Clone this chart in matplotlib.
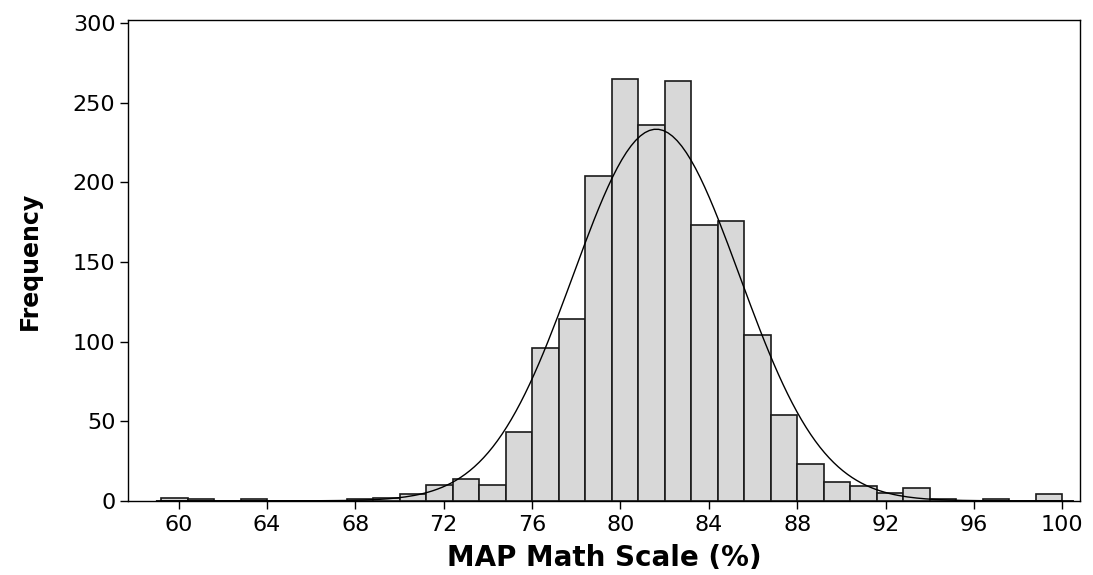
import numpy as np
import matplotlib.pyplot as plt

# Histogram bins (width 1.2, left edges) and counts
bin_width = 1.2
bin_left = np.round(59.2 + bin_width * np.arange(34), 1)
counts = [2, 1, 0, 1, 0, 0, 0, 1, 2, 4,
          10, 14, 10, 43, 96, 114, 204, 265, 236, 264,
          173, 176, 104, 54, 23, 12, 9, 5, 8, 1,
          0, 1, 0, 4]
x_ticks = [60, 64, 68, 72, 76, 80, 84, 88, 92, 96, 100]
y_ticks = [0, 50, 100, 150, 200, 250, 300]

counts = np.array(counts)
centers = bin_left + bin_width / 2

# Normal fit from the binned data
n = counts.sum()
mu = np.sum(counts * centers) / n
sd = np.sqrt(np.sum(counts * (centers - mu) ** 2) / (n - 1))
xs = np.linspace(59, 100.5, 200)
ys = n * bin_width / (sd * np.sqrt(2 * np.pi)) * np.exp(-0.5 * ((xs - mu) / sd) ** 2)

fig = plt.figure(figsize=(10.93, 5.75), dpi=100)
ax = fig.add_axes([0.117, 0.129, 0.871, 0.836])

ax.bar(bin_left, counts, width=bin_width, align='edge',
       color='#d8d8d8', edgecolor='#1a1a1a', linewidth=1.2)
ax.plot(xs, ys, color='black', linewidth=1.0)

ax.set_xlim(57.7, 100.8)
ax.set_ylim(0, 302)
ax.set_xticks(x_ticks)
ax.set_yticks(y_ticks)
ax.tick_params(labelsize=16, length=6, width=1, direction='out')
ax.tick_params(axis='y', pad=3)
ax.tick_params(axis='x', pad=4)
for s in ax.spines.values():
    s.set_linewidth(1.0)

ax.set_xlabel('MAP Math Scale (%)', fontsize=20, fontweight='bold')
ax.set_ylabel('Frequency', fontsize=17, fontweight='bold')
ax.xaxis.set_label_coords(0.5, -0.09)
ax.yaxis.set_label_coords(-0.09, 0.5)

fig.savefig('out.png', dpi=100)
